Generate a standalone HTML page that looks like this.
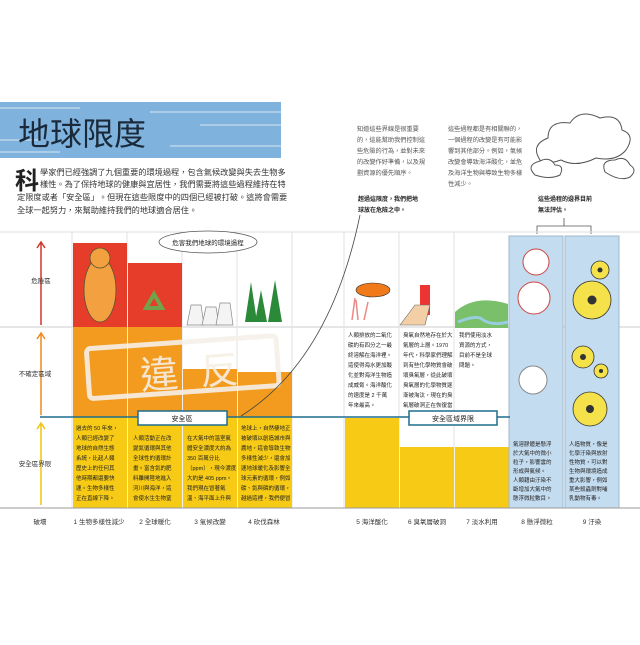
<!DOCTYPE html>
<html><head><meta charset="utf-8"><style>
body{margin:0;background:#fff;}
svg text{font-family:"Liberation Sans","Noto Sans CJK TC",sans-serif;}
</style></head><body>
<svg width="640" height="640" viewBox="0 0 640 640" xmlns="http://www.w3.org/2000/svg">
<rect width="640" height="640" fill="#fff"/>
<rect x="0" y="102" width="281" height="56" fill="#7fb2dd"/>
<g stroke="#fff" stroke-width="1" opacity="0.7">
<line x1="0" y1="108" x2="80" y2="108"/><line x1="150" y1="112" x2="281" y2="112"/>
<line x1="200" y1="125" x2="281" y2="125"/><line x1="0" y1="140" x2="40" y2="140"/>
<line x1="170" y1="146" x2="281" y2="146"/><line x1="0" y1="152" x2="60" y2="152"/>
</g>
<text x="18" y="145" font-size="32" fill="#1b2a3a">地球限度</text>
<text x="15" y="189" font-size="24" font-weight="bold" fill="#222">科</text>
<g font-size="8.2" fill="#333">
<text x="40" y="175">學家們已經強調了九個重要的環境過程，包含氣候改變與失去生物多</text>
<text x="40" y="187">樣性。為了保持地球的健康與宜居性，我們需要將這些過程維持在特</text>
<text x="17" y="200">定限度或者「安全區」。但現在這些限度中的四個已經被打破。這將會需要</text>
<text x="17" y="213">全球一起努力，來幫助維持我們的地球適合居住。</text>
</g>
<g font-size="6.2" fill="#555">
<text x="357" y="131">知道這些界線是很重要</text><text x="357" y="142">的，這能幫助我們控制這</text>
<text x="357" y="153">些危險的行為，並對未來</text><text x="357" y="164">的改變作好準備，以及規</text>
<text x="357" y="175">劃資源的優先順序。</text>
<text x="448" y="131">這些過程都是有相關聯的，</text><text x="448" y="142">一個過程的改變是有可能影</text>
<text x="448" y="153">響到其他部分。例如，氣候</text><text x="448" y="164">改變會導致海洋酸化，並危</text>
<text x="448" y="175">及海洋生物與導致生物多樣</text><text x="448" y="186">性減少。</text>
</g>
<g font-size="6" fill="#222" font-weight="bold">
<text x="358" y="201">超過這限度，我們把地</text><text x="358" y="212">球放在危險之中。</text>
<text x="538" y="201">這些過程的邊界目前</text><text x="538" y="212">無法評估。</text>
</g>
<g fill="#fff" stroke="#555" stroke-width="1">
<path d="M540 160 q-10 -15 8 -22 q0 -18 22 -15 q10 -15 30 -5 q20 -5 22 12 q14 5 4 20 q-10 12 -30 8 q-20 10 -35 2 q-18 6 -21 0z"/>
<path d="M535 175 q-10 -10 5 -14 q10 -5 15 4 q10 0 5 10 q-10 5 -25 0z"/>
<path d="M605 172 q-5 -12 10 -12 q10 -5 15 5 q8 5 0 12 q-10 5 -25 -5z"/>
</g>
<path d="M537 234 v-8 h54 v8 M564 226 v-8" fill="none" stroke="#555" stroke-width="0.8"/>
<line x1="0" y1="232" x2="640" y2="232" stroke="#ddd" stroke-width="1"/>
<line x1="0" y1="327" x2="640" y2="327" stroke="#ccc" stroke-width="1"/>
<g stroke="#e2e2e2" stroke-width="1">
<line x1="72" y1="232" x2="72" y2="508"/><line x1="127" y1="232" x2="127" y2="508"/>
<line x1="182" y1="232" x2="182" y2="508"/><line x1="237" y1="232" x2="237" y2="508"/>
<line x1="292" y1="232" x2="292" y2="508"/><line x1="344" y1="232" x2="344" y2="508"/>
<line x1="399" y1="232" x2="399" y2="508"/><line x1="454" y1="232" x2="454" y2="508"/>
</g>
<rect x="73" y="243" width="54" height="84" fill="#e53d2a"/>
<rect x="73" y="327" width="54" height="90" fill="#f29b1f"/>
<rect x="73" y="417" width="54" height="91" fill="#f7cb15"/>
<rect x="128" y="263" width="54" height="64" fill="#e53d2a"/>
<rect x="128" y="327" width="54" height="90" fill="#f29b1f"/>
<rect x="128" y="417" width="54" height="91" fill="#f7cb15"/>
<rect x="183" y="369" width="54" height="48" fill="#f29b1f"/>
<rect x="183" y="417" width="54" height="91" fill="#f7cb15"/>
<rect x="238" y="372" width="54" height="45" fill="#f29b1f"/>
<rect x="238" y="417" width="54" height="91" fill="#f7cb15"/>
<rect x="345" y="418" width="54" height="90" fill="#f7cb15"/>
<rect x="400" y="447" width="54" height="61" fill="#f7cb15"/>
<rect x="455" y="447" width="54" height="61" fill="#f7cb15"/>
<rect x="509" y="236" width="54" height="272" fill="#c4dcef" stroke="#9fb8cc"/>
<rect x="565" y="236" width="54" height="272" fill="#c4dcef" stroke="#9fb8cc"/>
<ellipse cx="100" cy="290" rx="16" ry="32" fill="#f3a040" stroke="#553" stroke-width="0.8"/>
<circle cx="100" cy="258" r="10" fill="#f3a040" stroke="#553" stroke-width="0.8"/>
<path d="M146 308 l8 -14 l8 14 z" fill="none" stroke="#5b5" stroke-width="4" opacity=".8"/>
<g fill="#f4f4f4" stroke="#888" stroke-width="0.7">
<path d="M187 325 l4 -20 h10 l3 20z"/><path d="M202 325 l4 -18 h10 l3 18z"/><path d="M216 325 l4 -22 h10 l3 22z"/>
</g>
<g fill="#2a8a3a"><path d="M245 322 l6 -40 l6 40z"/><path d="M255 322 l6 -32 l6 32z"/><path d="M268 322 l7 -42 l7 42z"/></g>
<ellipse cx="373" cy="290" rx="17" ry="7" fill="#f07a1a" stroke="#333" stroke-width="0.6"/>
<path d="M352 320 l3 -22 M358 320 l-2 -20 M364 320 l4 -18" stroke="#e88" stroke-width="1.5"/>
<rect x="420" y="285" width="10" height="30" fill="#e33"/>
<path d="M400 325 l15 -20 l15 0 l-5 20z" fill="#f2cfa6" stroke="#666" stroke-width="0.6"/>
<path d="M455 312 q20 -18 53 -8 v24 h-53z" fill="#7ac06a"/>
<path d="M458 322 q20 -8 25 -2 q10 6 25 2" stroke="#9cd" stroke-width="3" fill="none"/>
<g fill="#fff" stroke="#c44" stroke-width="1"><circle cx="536" cy="262" r="13"/><circle cx="534" cy="298" r="16"/></g>
<circle cx="533" cy="380" r="14" fill="#fff" stroke="#888"/>
<g fill="#f5e24a" stroke="#333" stroke-width="0.8">
<circle cx="600" cy="270" r="9"/><circle cx="592" cy="300" r="19"/><circle cx="583" cy="357" r="11"/><circle cx="601" cy="371" r="7"/><circle cx="590" cy="409" r="17"/>
</g>
<g fill="#333"><circle cx="600" cy="270" r="2.5"/><circle cx="592" cy="300" r="4.5"/><circle cx="583" cy="357" r="3"/><circle cx="601" cy="371" r="2"/><circle cx="590" cy="409" r="4"/></g>
<g transform="rotate(-4 185 370)">
<rect x="88" y="342" width="190" height="50" rx="4" fill="none" stroke="#f5f0e8" stroke-width="5" opacity="0.9"/>
<text x="140" y="386" font-size="38" fill="#f7efe4" opacity="0.9" font-family="Liberation Serif,Noto Serif CJK SC,serif">違</text>
<text x="200" y="386" font-size="38" fill="#f7efe4" opacity="0.9" font-family="Liberation Serif,Noto Serif CJK SC,serif">反</text>
</g>
<line x1="40" y1="417" x2="510" y2="417" stroke="#1d6d8d" stroke-width="1.5"/>
<rect x="138" y="411" width="89" height="14" fill="#fff" stroke="#1d6d8d" stroke-width="1.5"/>
<text x="182" y="421" font-size="7" text-anchor="middle" fill="#222">安全區</text>
<rect x="409" y="411" width="88" height="14" fill="#fff" stroke="#1d6d8d" stroke-width="1.5"/>
<text x="453" y="421" font-size="7" text-anchor="middle" fill="#222">安全區域界限</text>
<line x1="0" y1="508" x2="640" y2="508" stroke="#999" stroke-width="1"/>
<path d="M241 416 Q330 360 360 215" fill="none" stroke="#444" stroke-width="0.8"/>
<ellipse cx="208" cy="242" rx="49" ry="11" fill="#fff" stroke="#555" stroke-width="0.8"/>
<text x="208" y="245" font-size="6.5" text-anchor="middle" fill="#222">危害我們地球的環境過程</text>
<g stroke-width="1.5" fill="none">
<path d="M41 325 V242 M37 248 l4 -6 l4 6" stroke="#d2362b"/>
<path d="M41 415 V333 M37 339 l4 -6 l4 6" stroke="#ee8a1d"/>
<path d="M41 505 V423 M37 429 l4 -6 l4 6" stroke="#f1c40f"/>
</g>
<g font-size="6.5" fill="#333" text-anchor="middle">
<text x="41" y="283">危險區</text><text x="35" y="376">不確定區域</text><text x="35" y="466">安全區界限</text>
<text x="40" y="524">破壞</text><text x="99" y="524">1 生物多樣性減少</text><text x="155" y="524">2 全球暖化</text>
<text x="210" y="524">3 氣候改變</text><text x="264" y="524">4 砍伐森林</text><text x="372" y="524">5 海洋酸化</text>
<text x="427" y="524">6 臭氧層破洞</text><text x="482" y="524">7 淡水利用</text><text x="537" y="524">8 懸浮微粒</text>
<text x="592" y="524">9 汙染</text>
</g>
<g font-size="5.5" fill="#222">
<text x="76" y="430">過去的 50 年來，</text><text x="76" y="440">人類已經改變了</text><text x="76" y="450">地球的自然生態</text><text x="76" y="460">系統，比起人類</text><text x="76" y="470">歷史上的任何其</text><text x="76" y="480">他時期都還要快</text><text x="76" y="490">速。生物多樣性</text><text x="76" y="500">正在直線下降。</text>
<text x="133" y="440">人類活動正在改</text><text x="133" y="450">變氮循環與其他</text><text x="133" y="460">全球性的循環計</text><text x="133" y="470">畫。富含氮的肥</text><text x="133" y="480">料離開陸地進入</text><text x="133" y="490">河川與海洋，這</text><text x="133" y="500">會使水生生物窒</text>
<text x="187" y="440">在大氣中的溫室氣</text><text x="187" y="450">體安全濃度大約為</text><text x="187" y="460">350 百萬分比</text><text x="187" y="470">（ppm），現今濃度</text><text x="187" y="480">大約是 405 ppm。</text><text x="187" y="490">我們現在冒著氣</text><text x="187" y="500">溫、海平面上升與</text>
<text x="241" y="430">地球上，自然棲地正</text><text x="241" y="440">被破壞以創造城市與</text><text x="241" y="450">農地，這會導致生物</text><text x="241" y="460">多樣性減少，還會加</text><text x="241" y="470">速地球暖化及影響全</text><text x="241" y="480">球元素的循環，例如</text><text x="241" y="490">碳、氮與磷的循環，</text><text x="241" y="500">越過這裡，我們便冒</text>
<text x="348" y="337">人類排放的二氧化</text><text x="348" y="347">碳約有四分之一最</text><text x="348" y="357">終溶解在海洋裡。</text><text x="348" y="367">這使得海水更加酸</text><text x="348" y="377">化並對海洋生物造</text><text x="348" y="387">成威脅。海洋酸化</text><text x="348" y="397">的速度是 2 千萬</text><text x="348" y="407">年來最高。</text>
<text x="403" y="337">臭氧自然地存在於大</text><text x="403" y="347">氣層的上層。1970</text><text x="403" y="357">年代，科學家們理解</text><text x="403" y="367">到有些化學物質會破</text><text x="403" y="377">壞臭氧層，從此破壞</text><text x="403" y="387">臭氧層的化學物質逐</text><text x="403" y="397">漸被淘汰，現在的臭</text><text x="403" y="407">氧層破洞正在恢復當</text>
<text x="459" y="337">我們使用淡水</text><text x="459" y="347">資源的方式，</text><text x="459" y="357">目前不是全球</text><text x="459" y="367">問題。</text>
<text x="513" y="446">氣溶膠體是懸浮</text><text x="513" y="455">於大氣中的微小</text><text x="513" y="464">粒子，影響雲的</text><text x="513" y="473">形成與氣候。</text><text x="513" y="482">人類藉由汙染不</text><text x="513" y="491">斷增加大氣中的</text><text x="513" y="500">懸浮微粒數目。</text>
<text x="569" y="446">人造物質，像是</text><text x="569" y="455">化學汙染與放射</text><text x="569" y="464">性物質，可以對</text><text x="569" y="473">生物與環境造成</text><text x="569" y="482">重大影響，例如</text><text x="569" y="491">某些殺蟲劑對哺</text><text x="569" y="500">乳動物有毒。</text>
</g>
</svg>
</body></html>
